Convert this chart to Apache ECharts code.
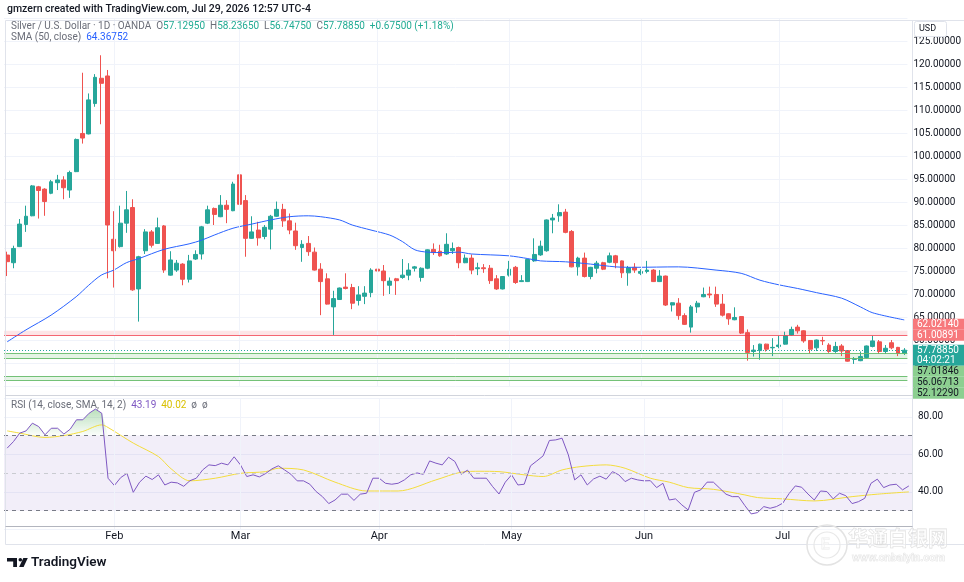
<!DOCTYPE html>
<html>
<head>
<meta charset="utf-8">
<title>Silver / U.S. Dollar - 1D - OANDA</title>
<script src="https://cdn.jsdelivr.net/npm/echarts@6/dist/echarts.min.js"></script>
<style>
html, body { margin: 0; padding: 0; background: #ffffff; }
#container { width: 964px; height: 582px; }
</style>
</head>
<body>
<div id="container"></div>
<script>
var dom = document.getElementById('container');
var myChart = echarts.init(dom, null, {
    renderer: 'canvas',
    useDirtyRect: false
});

// trading days shown on the chart
var dates = [
    '2026-01-08','2026-01-09','2026-01-12','2026-01-13','2026-01-14','2026-01-15','2026-01-16','2026-01-19','2026-01-20','2026-01-21',
    '2026-01-22','2026-01-23','2026-01-26','2026-01-27','2026-01-28','2026-01-29','2026-01-30',
    '2026-02-02','2026-02-03','2026-02-04','2026-02-05','2026-02-06','2026-02-09','2026-02-10','2026-02-11','2026-02-12','2026-02-13',
    '2026-02-16','2026-02-17','2026-02-18','2026-02-19','2026-02-20','2026-02-23','2026-02-24','2026-02-25','2026-02-26','2026-02-27',
    '2026-03-02','2026-03-03','2026-03-04','2026-03-05','2026-03-06','2026-03-09','2026-03-10','2026-03-11','2026-03-12','2026-03-13',
    '2026-03-16','2026-03-17','2026-03-18','2026-03-19','2026-03-20','2026-03-23','2026-03-24','2026-03-25','2026-03-26','2026-03-27',
    '2026-03-30','2026-03-31',
    '2026-04-01','2026-04-02','2026-04-06','2026-04-07','2026-04-08','2026-04-09','2026-04-10','2026-04-13','2026-04-14','2026-04-15',
    '2026-04-16','2026-04-17','2026-04-20','2026-04-21','2026-04-22','2026-04-23','2026-04-24','2026-04-27','2026-04-28','2026-04-29','2026-04-30',
    '2026-05-01','2026-05-04','2026-05-05','2026-05-06','2026-05-07','2026-05-08','2026-05-11','2026-05-12','2026-05-13','2026-05-14',
    '2026-05-15','2026-05-18','2026-05-19','2026-05-20','2026-05-21','2026-05-22','2026-05-25','2026-05-26','2026-05-27','2026-05-28','2026-05-29',
    '2026-06-01','2026-06-02','2026-06-03','2026-06-04','2026-06-05','2026-06-08','2026-06-09','2026-06-10','2026-06-11','2026-06-12',
    '2026-06-15','2026-06-16','2026-06-17','2026-06-18','2026-06-19','2026-06-22','2026-06-23','2026-06-24','2026-06-25','2026-06-26',
    '2026-06-29','2026-06-30',
    '2026-07-01','2026-07-02','2026-07-03','2026-07-06','2026-07-07','2026-07-08','2026-07-09','2026-07-10','2026-07-13','2026-07-14',
    '2026-07-15','2026-07-16','2026-07-17','2026-07-20','2026-07-21','2026-07-22','2026-07-23','2026-07-24','2026-07-27','2026-07-28','2026-07-29'
];
var monthNames = ['Jan', 'Feb', 'Mar', 'Apr', 'May', 'Jun', 'Jul', 'Aug', 'Sep', 'Oct', 'Nov', 'Dec'];

var opens = [
    78.47, 76.8, 80.3, 85.1, 87.0, 93.3, 92.8, 91.9, 94.2, 94.8,
    92.6, 96.6, 104.9, 104.8, 111.4, 116.9, 117.4, 81.9, 80.3, 85.4,
    88.8, 71.1, 79.4, 83.5, 81.0, 84.8, 74.1, 75.2, 76.5, 73.2,
    77.6, 78.7, 85.4, 88.6, 86.8, 89.3, 88.1, 95.9, 90.3, 82.1,
    83.9, 82.5, 84.1, 86.9, 88.4, 85.9, 83.7, 80.1, 81.0, 79.1,
    75.4, 73.3, 67.2, 68.8, 71.5, 71.4, 68.6, 69.5, 70.3, 75.4,
    75.0, 71.9, 73.3, 73.6, 74.1, 75.6, 73.6, 75.6, 79.7, 79.3,
    78.7, 79.4, 80.1, 76.8, 77.8, 75.5, 75.7, 75.6, 73.3, 71.1,
    74.1, 75.8, 72.7, 72.7, 77.2, 78.5, 79.4, 86.1, 87.0, 87.8,
    83.6, 75.9, 77.8, 73.8, 75.6, 76.8, 76.9, 78.3, 77.2, 74.6,
    75.8, 74.5, 74.9, 75.2, 72.7, 73.9, 67.6, 68.0, 65.3, 62.8,
    67.2, 69.4, 70.0, 69.9, 67.8, 65.7, 64.4, 65.1, 61.6, 57.5,
    57.7, 59.1, 58.3, 58.6, 59.1, 61.1, 62.8, 62.0, 59.9, 58.3,
    59.9, 58.9, 57.5, 58.7, 57.7, 55.8, 55.5, 56.2, 58.6, 59.6,
    57.5, 59.4, 58.4, 57.1295
];
var highs = [
    79.2, 80.5, 86.3, 89.2, 93.7, 93.5, 93.0, 94.8, 95.9, 95.6,
    96.8, 103.8, 118.1, 113.6, 117.8, 121.9, 118.7, 88.0, 89.2, 92.4,
    90.6, 78.3, 84.1, 83.9, 86.6, 85.0, 79.3, 77.4, 76.7, 78.5,
    79.5, 84.8, 89.2, 88.8, 91.5, 90.4, 94.4, 96.6, 91.5, 86.9,
    85.7, 85.0, 87.2, 90.1, 89.6, 87.5, 85.5, 81.7, 82.6, 80.1,
    76.7, 74.5, 70.7, 71.4, 74.5, 72.2, 71.7, 71.7, 75.6, 75.6,
    76.3, 73.6, 73.5, 77.6, 76.7, 76.1, 75.8, 79.7, 81.0, 80.7,
    83.2, 81.2, 80.3, 78.6, 78.6, 76.8, 76.5, 76.3, 74.1, 73.9,
    77.2, 76.1, 74.1, 77.6, 82.1, 81.6, 86.2, 87.4, 89.5, 88.5,
    83.9, 78.1, 79.0, 75.9, 77.2, 77.0, 79.0, 78.5, 77.3, 76.1,
    76.7, 75.4, 77.2, 75.4, 75.2, 74.0, 68.2, 69.1, 65.8, 67.6,
    68.5, 71.4, 71.6, 71.6, 70.0, 65.8, 67.1, 65.2, 62.3, 58.9,
    59.2, 59.2, 60.4, 60.9, 61.8, 62.9, 63.3, 62.1, 60.0, 60.1,
    60.7, 59.3, 59.6, 59.1, 57.8, 56.3, 57.5, 58.8, 60.9, 60.0,
    58.9, 60.0, 58.5, 58.2365
];
var lows = [
    73.9, 75.6, 80.2, 83.5, 86.9, 86.4, 87.0, 91.7, 92.6, 90.6,
    90.9, 96.5, 102.7, 104.7, 110.7, 106.9, 73.4, 71.4, 80.1, 83.3,
    70.7, 64.0, 78.7, 80.1, 80.9, 74.6, 74.0, 74.8, 71.9, 72.5,
    77.4, 77.5, 85.2, 85.0, 86.7, 85.4, 88.0, 86.7, 78.1, 82.0,
    80.5, 81.9, 79.7, 86.8, 84.6, 83.0, 79.6, 77.0, 78.3, 75.1,
    65.4, 67.7, 61.1, 68.7, 71.0, 66.7, 67.5, 67.8, 69.3, 73.8,
    69.6, 70.0, 69.8, 73.3, 73.0, 74.9, 72.7, 75.4, 78.5, 78.1,
    78.5, 78.7, 75.6, 76.7, 74.3, 74.1, 74.6, 72.2, 70.9, 71.0,
    73.8, 72.2, 72.6, 72.6, 77.0, 78.3, 79.2, 83.2, 85.7, 83.2,
    75.8, 74.0, 73.6, 73.2, 74.5, 75.2, 76.7, 75.6, 73.5, 71.8,
    74.6, 74.1, 74.5, 72.6, 72.6, 67.4, 66.2, 64.4, 63.3, 61.6,
    65.9, 69.3, 69.1, 67.2, 65.1, 63.3, 64.3, 61.3, 55.5, 56.4,
    55.7, 57.5, 56.5, 58.2, 59.0, 61.0, 61.4, 59.4, 57.1, 57.6,
    58.9, 57.2, 57.2, 56.5, 55.3, 54.8, 55.4, 56.0, 58.4, 57.0,
    57.0, 58.0, 56.5, 56.7475
];
var closes = [
    77.03, 79.9, 85.2, 86.9, 93.5, 92.5, 90.1, 94.4, 94.8, 93.1,
    96.4, 103.6, 103.9, 112.2, 117.1, 115.8, 85.0, 79.4, 85.4, 88.3,
    70.9, 78.1, 83.5, 80.6, 84.4, 75.2, 77.4, 76.7, 73.2, 77.2,
    78.6, 84.6, 88.3, 87.3, 89.3, 88.4, 93.9, 89.5, 82.1, 83.5,
    82.2, 84.5, 86.9, 88.4, 85.9, 83.9, 80.5, 80.8, 79.2, 75.2,
    72.7, 67.8, 69.0, 71.3, 71.2, 68.0, 69.8, 70.2, 75.2, 75.0,
    72.9, 72.8, 72.9, 74.1, 75.2, 75.9, 75.6, 79.6, 79.0, 78.3,
    80.8, 79.9, 76.8, 77.8, 75.2, 75.7, 75.5, 72.9, 71.1, 73.8,
    75.4, 72.5, 72.9, 77.5, 78.6, 80.4, 86.1, 86.5, 87.7, 83.4,
    75.9, 77.8, 73.8, 75.8, 76.7, 75.4, 78.3, 76.8, 74.6, 75.7,
    75.2, 74.9, 75.2, 72.7, 73.9, 67.6, 68.1, 65.3, 63.4, 67.2,
    68.0, 69.9, 69.8, 67.8, 65.4, 64.6, 64.9, 61.5, 57.3, 57.8,
    59.1, 58.0, 58.4, 58.9, 60.9, 62.3, 62.0, 59.8, 58.0, 60.0,
    59.8, 57.5, 58.6, 57.6, 55.4, 55.9, 56.4, 58.7, 59.8, 57.5,
    58.2, 58.3, 57.1, 57.7885
];

// SMA(50): [bar index, value]
var smaPoints = [
    [0, 59.6], [3, 62.2], [7, 65.4], [11, 69.4], [13, 71.9], [15, 74.1], [17, 75.2], [19, 76.8],
    [21, 77.7], [25, 79.7], [29, 80.9], [31, 81.7], [33, 82.8], [36, 84.3], [39, 85.2], [42, 86.1],
    [45, 86.8], [48, 87.0], [50, 86.8], [53, 86.1], [55, 85.0], [58, 83.9], [61, 82.8], [63, 81.4],
    [65, 79.6], [67, 79.1], [70, 79.0], [72, 79.1], [74, 78.7], [80, 78.3], [83, 77.7], [85, 77.2],
    [89, 77.0], [93, 76.5], [97, 75.9], [100, 75.8], [107, 75.9], [113, 75.2], [117, 74.5], [120, 73.0],
    [123, 72.0], [126, 71.2], [129, 70.3], [133, 69.1], [136, 67.2], [138, 65.9], [143, 64.36752]
];

// RSI(14), one value per bar
var rsiValues = [
    63.3, 66.8, 71.3, 72.5, 76.6, 74.8, 70.4, 73.9, 73.9, 70.8,
    73.4, 78.4, 78.4, 81.9, 84.1, 81.9, 47.3, 43.4, 47.6, 49.9,
    39.8, 45.2, 48.4, 46.6, 49.1, 43.7, 45.2, 44.8, 43.0, 46.0,
    47.3, 51.7, 54.4, 54.0, 55.3, 54.4, 58.7, 54.4, 48.2, 49.1,
    48.0, 49.8, 52.3, 53.9, 51.7, 49.4, 45.9, 45.9, 44.1, 40.2,
    37.5, 33.8, 35.7, 38.8, 38.8, 35.5, 38.8, 39.3, 47.3, 47.3,
    44.6, 44.1, 44.6, 46.4, 49.1, 50.1, 49.4, 56.5, 55.3, 54.4,
    58.5, 56.2, 49.4, 51.6, 47.3, 47.3, 47.3, 42.8, 38.9, 45.2,
    49.1, 43.7, 44.1, 53.9, 56.5, 59.2, 67.4, 67.7, 68.6, 59.7,
    46.4, 49.1, 43.7, 46.9, 48.4, 46.8, 50.8, 49.1, 45.5, 47.3,
    46.4, 45.9, 46.0, 42.3, 44.6, 35.7, 36.3, 33.1, 30.4, 39.8,
    41.1, 45.2, 45.2, 42.0, 38.8, 37.5, 37.5, 32.7, 28.3, 29.0,
    32.2, 31.3, 32.2, 34.0, 39.1, 43.2, 42.5, 38.9, 35.7, 40.5,
    40.2, 36.3, 39.3, 38.0, 33.8, 34.8, 36.6, 44.6, 46.8, 42.3,
    43.7, 44.1, 41.1, 43.19
];

// SMA(14) of RSI: [bar index, value]
var rsiSmaPoints = [
    [0, 72.5], [2, 71.3], [6, 69.0], [9, 70.0], [12, 72.2], [15, 75.7], [16, 74.3], [20, 66.0],
    [24, 58.8], [26, 52.3], [29, 45.9], [33, 47.3], [37, 49.9], [41, 50.8], [43, 52.6], [47, 51.7],
    [52, 45.2], [57, 40.5], [62, 40.5], [68, 46.4], [72, 50.5], [75, 51.0], [78, 50.8], [82, 49.1],
    [85, 48.2], [88, 51.7], [91, 53.5], [95, 54.4], [98, 52.6], [102, 47.3], [105, 45.2], [108, 42.3],
    [112, 41.4], [117, 38.4], [119, 37.0], [123, 36.3], [128, 35.2], [134, 37.5], [138, 38.8], [143, 40.02]
];

// horizontal levels drawn on the price pane
var lastPrice = 57.78850;
var redZone = [61.00891, 62.02140];
var greenZones = [[56.06713, 57.01846], [51.2, 52.12290]];
var priceTags = [
    { value: 62.02140, text: '62.02140', bg: '#f7787c', fg: '#ffffff' },
    { value: 61.00891, text: '61.00891', bg: '#f7787c', fg: '#ffffff' },
    { value: 57.78850, text: '57.78850', sub: '04:02:21', bg: '#26a69a', fg: '#ffffff', current: true },
    { value: 57.01846, text: '57.01846', bg: '#8ccf90', fg: '#131722' },
    { value: 56.06713, text: '56.06713', bg: '#8ccf90', fg: '#131722' },
    { value: 52.12290, text: '52.12290', bg: '#8ccf90', fg: '#131722' }
];

var FONT = 'Roboto, "Noto Sans", sans-serif';

var candleData = dates.map(function (d, i) {
    return [opens[i], closes[i], lows[i], highs[i]];
});
var monthStarts = [];
dates.forEach(function (d, i) {
    if (i > 0 && d.slice(5, 7) !== dates[i - 1].slice(5, 7)) monthStarts.push(i);
});
var monthLines = monthStarts.map(function (i) {
    return { xAxis: dates[i] };
});
var overbought = rsiValues.map(function (v) { return Math.max(v, 70); });

var greenLine = { color: '#66bb6a', width: 1, type: 'solid', opacity: 0.9 };
var priceLevels = [
    { yAxis: redZone[0], lineStyle: { color: '#f23645', width: 1, type: 'solid', opacity: 0.75 } },
    { yAxis: greenZones[0][0], lineStyle: greenLine },
    { yAxis: greenZones[0][1], lineStyle: greenLine },
    { yAxis: greenZones[1][0], lineStyle: greenLine },
    { yAxis: greenZones[1][1], lineStyle: greenLine },
    { yAxis: lastPrice, lineStyle: { color: '#26a69a', width: 1, type: [1, 2] } }
];

var option = {
    animation: false,
    textStyle: { fontFamily: FONT },
    grid: [
        { left: 4, right: 52, top: 18, height: 368 },
        { left: 4, right: 52, top: 398, height: 131.5 }
    ],
    xAxis: [
        {
            type: 'category', gridIndex: 0, data: dates, boundaryGap: true, show: false
        },
        {
            type: 'category', gridIndex: 1, data: dates, boundaryGap: true,
            axisLine: { show: false },
            axisTick: { show: false },
            splitLine: { show: false },
            axisLabel: {
                margin: 1,
                color: '#131722',
                fontSize: 11,
                interval: function (index) { return monthStarts.indexOf(index) >= 0; },
                formatter: function (value) { return monthNames[parseInt(value.slice(5, 7), 10) - 1]; }
            }
        }
    ],
    yAxis: [
        {
            type: 'value', gridIndex: 0, position: 'right',
            min: 50, max: 130, interval: 5,
            axisLine: { show: false },
            axisTick: { show: false },
            splitLine: { lineStyle: { color: '#f0f3fa' } },
            axisLabel: {
                margin: 6, color: '#131722', fontSize: 10, showMaxLabel: false,
                formatter: function (v) { return v.toFixed(5); }
            }
        },
        {
            type: 'value', gridIndex: 1, position: 'right',
            min: 20, max: 90, interval: 20,
            axisLine: { show: false },
            axisTick: { show: false },
            splitLine: { lineStyle: { color: '#f0f3fa' } },
            axisLabel: {
                margin: 6, color: '#131722', fontSize: 10,
                formatter: function (v) { return (v === 20 || v === 90) ? '' : v.toFixed(2); }
            }
        }
    ],
    series: [
        {
            name: 'levels', type: 'line', xAxisIndex: 0, yAxisIndex: 0, data: [], silent: true, z: 1,
            markArea: {
                silent: true,
                data: [
                    [{ yAxis: redZone[0], itemStyle: { color: 'rgba(242,54,69,0.13)' } }, { yAxis: redZone[1] }],
                    [{ yAxis: greenZones[0][0], itemStyle: { color: 'rgba(76,175,80,0.14)' } }, { yAxis: greenZones[0][1] }],
                    [{ yAxis: greenZones[1][0], itemStyle: { color: 'rgba(76,175,80,0.14)' } }, { yAxis: greenZones[1][1] }]
                ]
            },
            markLine: {
                silent: true, symbol: ['none', 'none'], label: { show: false },
                lineStyle: { color: '#f0f3fa', width: 1, type: 'solid' },
                data: monthLines.concat(priceLevels)
            }
        },
        {
            name: 'XAG/USD', type: 'candlestick', xAxisIndex: 0, yAxisIndex: 0, z: 3,
            data: candleData,
            barWidth: '70%',
            itemStyle: {
                color: '#26a69a', color0: '#ef5350',
                borderColor: '#26a69a', borderColor0: '#ef5350', borderWidth: 1
            }
        },
        {
            name: 'SMA 50', type: 'line', xAxisIndex: 0, yAxisIndex: 0, z: 4,
            data: smaPoints, showSymbol: false, smooth: 0.3, silent: true,
            lineStyle: { color: '#2962ff', width: 1 }
        },
        {
            name: 'rsi bands', type: 'line', xAxisIndex: 1, yAxisIndex: 1, data: [], silent: true, z: 1,
            markArea: {
                silent: true,
                itemStyle: { color: 'rgba(126,87,194,0.1)' },
                data: [[{ yAxis: 30 }, { yAxis: 70 }]]
            },
            markLine: {
                silent: true, symbol: ['none', 'none'], label: { show: false },
                lineStyle: { color: '#f0f3fa', width: 1, type: 'solid' },
                data: monthLines.concat([
                    { yAxis: 70, lineStyle: { color: '#787b86', width: 1, type: [4, 4] } },
                    { yAxis: 50, lineStyle: { color: '#c9cbd1', width: 1, type: [4, 4] } },
                    { yAxis: 30, lineStyle: { color: '#787b86', width: 1, type: [4, 4] } }
                ])
            }
        },
        {
            name: 'overbought', type: 'line', xAxisIndex: 1, yAxisIndex: 1, z: 2,
            data: overbought, showSymbol: false, silent: true,
            lineStyle: { width: 0, opacity: 0 },
            areaStyle: {
                origin: 70,
                color: new echarts.graphic.LinearGradient(0, 0, 0, 1, [
                    { offset: 0, color: 'rgba(76,175,80,0.55)' },
                    { offset: 1, color: 'rgba(76,175,80,0.03)' }
                ])
            }
        },
        {
            name: 'RSI MA', type: 'line', xAxisIndex: 1, yAxisIndex: 1, z: 3,
            data: rsiSmaPoints, showSymbol: false, smooth: 0.3, silent: true,
            lineStyle: { color: '#f3dc3c', width: 1 }
        },
        {
            name: 'RSI', type: 'line', xAxisIndex: 1, yAxisIndex: 1, z: 4,
            data: rsiValues, showSymbol: false, silent: true,
            lineStyle: { color: '#7e57c2', width: 1 }
        }
    ]
};

myChart.setOption(option);

// frame, header, legends, price tags
var graphics = [];
function line(x1, y1, x2, y2, color) {
    graphics.push({ type: 'line', silent: true, z: 50, shape: { x1: x1, y1: y1, x2: x2, y2: y2 }, style: { stroke: color, lineWidth: 1 } });
}
function text(x, y, str, style) {
    var s = { text: str, font: '10px ' + FONT, fill: '#131722', verticalAlign: 'middle', align: 'left' };
    for (var k in style) s[k] = style[k];
    graphics.push({ type: 'text', silent: true, z: 120, x: x, y: y, style: s });
}

line(5.5, 20.5, 964, 20.5, '#e0e3eb');
line(5.5, 20.5, 5.5, 544.5, '#e0e3eb');
line(5.5, 544.5, 964, 544.5, '#e0e3eb');
line(912.5, 20.5, 912.5, 544.5, '#e0e3eb');
line(5.5, 395.5, 964, 395.5, '#d1d4dc');
line(5.5, 526.5, 912.5, 526.5, '#b2b5be');

text(7, 9, 'gmzern created with TradingView.com, Jul 29, 2026 12:57 UTC-4', { font: '500 10.5px ' + FONT, fill: '#131722' });

var rich = {
    t: { fill: '#6a6d78', font: '10px ' + FONT },
    g: { fill: '#22ab94', font: '10px ' + FONT },
    b: { fill: '#2962ff', font: '10px ' + FONT },
    p: { fill: '#7e57c2', font: '10px ' + FONT },
    y: { fill: '#d9c000', font: '10px ' + FONT }
};
text(11, 26, '{t|Silver / U.S. Dollar · 1D · OANDA}  {t|O}{g|57.12950}  {t|H}{g|58.23650}  {t|L}{g|56.74750}  {t|C}{g|57.78850}  {g|+0.67500 (+1.18%)}', { rich: rich });
text(11, 37, '{t|SMA (50, close)}  {b|64.36752}', { rich: rich });
text(11, 405, '{t|RSI (14, close, SMA, 14, 2)}  {p|43.19}  {y|40.02}  {t|ø  ø}', { rich: rich });

// USD box
graphics.push({ type: 'rect', silent: true, z: 110, shape: { x: 914.5, y: 21.5, width: 32, height: 15, r: 2 }, style: { fill: '#ffffff', stroke: '#e0e3eb' } });
text(919, 29, 'USD', { font: '9px ' + FONT });

// right-hand price tags, nudged apart so they do not overlap
var tagH = 11;
var tags = priceTags.map(function (t) {
    return { t: t, y: myChart.convertToPixel({ yAxisIndex: 0 }, t.value) };
});
var cur = tags.filter(function (o) { return o.t.current; })[0];
cur.top = cur.y - tagH / 2;
cur.h = tagH * 2 - 1;
var limit = cur.top;
tags.filter(function (o) { return o.t.value > cur.t.value; })
    .sort(function (a, b) { return a.t.value - b.t.value; })
    .forEach(function (o) {
        o.top = Math.min(o.y - tagH / 2, limit - tagH);
        o.h = tagH;
        limit = o.top;
    });
limit = cur.top + cur.h;
tags.filter(function (o) { return o.t.value < cur.t.value; })
    .sort(function (a, b) { return b.t.value - a.t.value; })
    .forEach(function (o) {
        o.top = Math.max(o.y - tagH / 2, limit);
        o.h = tagH;
        limit = o.top + tagH;
    });
tags.forEach(function (o) {
    graphics.push({ type: 'rect', silent: true, z: 110, shape: { x: 913, y: o.top, width: 51, height: o.h }, style: { fill: o.t.bg } });
    text(917, o.top + tagH / 2, o.t.text, { fill: o.t.fg, font: '10px ' + FONT });
    if (o.t.sub) text(917, o.top + tagH / 2 + 10, o.t.sub, { fill: o.t.fg, font: '10px ' + FONT });
});

// TradingView logo
graphics.push({ type: 'polygon', silent: true, z: 120, shape: { points: [[7, 558], [17, 558], [17, 567], [13.2, 567], [13.2, 561.6], [7, 561.6]] }, style: { fill: '#131722' } });
graphics.push({ type: 'circle', silent: true, z: 120, shape: { cx: 20.3, cy: 559.8, r: 1.8 }, style: { fill: '#131722' } });
graphics.push({ type: 'polygon', silent: true, z: 120, shape: { points: [[23.3, 558], [27.8, 558], [23.6, 567], [19.1, 567]] }, style: { fill: '#131722' } });
text(31, 562.5, 'TradingView', { font: '600 13.5px ' + FONT, fill: '#131722' });

// faint watermark
graphics.push({ type: 'circle', silent: true, z: 130, shape: { cx: 827, cy: 545, r: 20 }, style: { fill: 'rgba(255,255,255,0.35)', stroke: '#e3e3e3', lineWidth: 1.5 } });
graphics.push({ type: 'circle', silent: true, z: 130, shape: { cx: 827, cy: 545, r: 13 }, style: { fill: 'none', stroke: '#e8e8e8', lineWidth: 1.2 } });
text(821, 545, 'E', { font: 'bold 15px ' + FONT, fill: 'rgba(255,255,255,0.4)', stroke: '#e0e0e0', lineWidth: 0.8 });
text(848, 538, '华通白银网', { font: 'bold 20px "Noto Sans CJK SC"', fill: 'rgba(255,255,255,0.45)', stroke: '#dcdcdc', lineWidth: 0.8 });
text(852, 558, 'www.cnbaiyin.com', { font: 'bold 11px ' + FONT, fill: 'rgba(255,255,255,0.45)', stroke: '#e0e0e0', lineWidth: 0.7 });

myChart.setOption({ graphic: { elements: graphics } });

window.addEventListener('resize', myChart.resize);
</script>
</body>
</html>
